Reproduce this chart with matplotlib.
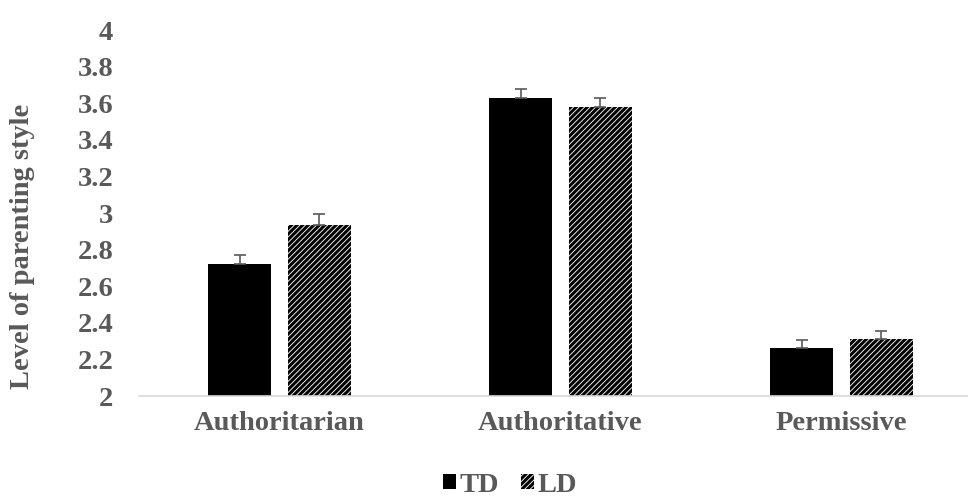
import numpy as np
import matplotlib.pyplot as plt

plt.rcParams["font.family"] = ["Liberation Serif", "DejaVu Serif"]
plt.rcParams["font.weight"] = "bold"
plt.rcParams["hatch.linewidth"] = 2.2

categories = ["Authoritarian", "Authoritative", "Permissive"]
td_values = [2.72, 3.63, 2.26]
td_errors = [0.05, 0.05, 0.045]
ld_values = [2.935, 3.58, 2.31]
ld_errors = [0.06, 0.05, 0.045]

text_color = "#595959"

fig = plt.figure(figsize=(9.68, 4.99), dpi=100)
ax = fig.add_axes([139 / 968, 103 / 499, 1 - 139 / 968, 366 / 499])

x = np.arange(len(categories))
offset = 0.142
width = 0.224
err_kw = dict(ecolor=text_color, elinewidth=1.2, capsize=4.5, capthick=1.2)

# plus-only error bars, like the spreadsheet chart
ax.bar(x - offset, td_values, width, color="black",
       yerr=[np.zeros(len(td_errors)), td_errors], error_kw=err_kw, label="TD")
ax.bar(x + offset, ld_values, width, color="white", edgecolor="black",
       linewidth=0, hatch="//////",
       yerr=[np.zeros(len(ld_errors)), ld_errors], error_kw=err_kw, label="LD")

ax.set_ylim(2, 4)
ax.set_xlim(-0.5, 2.45)
ax.set_yticks(np.arange(2, 4.01, 0.2))
ax.set_yticklabels(["2", "2.2", "2.4", "2.6", "2.8", "3", "3.2", "3.4", "3.6", "3.8", "4"])
ax.set_xticks(x)
ax.set_xticklabels(categories)
ax.tick_params(axis="both", length=0, labelsize=20.5, labelcolor=text_color)
ax.tick_params(axis="y", pad=18.5)
ax.tick_params(axis="x", pad=11)

for side in ["top", "right", "left"]:
    ax.spines[side].set_visible(False)
ax.spines["bottom"].set_color("#d9d9d9")
ax.spines["bottom"].set_linewidth(1.2)

ax.set_ylabel("Level of parenting style", fontsize=20.5, color=text_color,
              fontweight="bold")
ax.yaxis.set_label_coords(-0.125, 0.41)

fig.legend(loc="center", bbox_to_anchor=(510 / 968, 1 - 485 / 499), ncol=2,
           frameon=False, fontsize=20.5, labelcolor=text_color,
           handlelength=0.45, handleheight=0.45, handletextpad=0.1,
           columnspacing=0.8, borderpad=0.1)

plt.savefig("out.png", dpi=100)
